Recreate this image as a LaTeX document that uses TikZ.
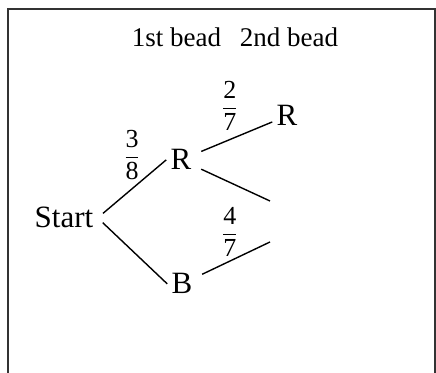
\documentclass[tikz,border=0pt]{standalone}
\usepackage{amsmath}
\usepackage{fontspec}
\setmainfont{Liberation Serif}
\usetikzlibrary{positioning,calc}

\newcommand{\bfrac}[2]{$\genfrac{}{}{0.7pt}{0}{\text{#1}}{\text{#2}}$}

\begin{document}
\begin{tikzpicture}[x=0.5pt,y=0.5pt,
    lbl/.style={font=\fontsize{15.5}{18}\selectfont, inner sep=2pt},
    frac/.style={font=\fontsize{13}{15}\selectfont, inner sep=0pt},
    branch/.style={line width=0.7pt, shorten <=3pt}]
    \useasboundingbox (0,0) rectangle (436,373);
    \draw[line width=1pt, black!80] (8,-4) -- (8,364) -- (435,364) -- (435,-4);
    \node[font=\fontsize{13.5}{16}\selectfont, anchor=base] (head) at (235,326) {1st bead\hspace{0.7em}2nd bead};
    \node[lbl, anchor=base] (start) at (64,145) {Start};
    \node[lbl, anchor=base] (r1) at (181,203) {R};
    \node[lbl, anchor=base] (b) at (182,79) {B};
    \node[lbl, anchor=base] (r2) at (287,247) {R};
    \coordinate (rr) at (270,172);
    \coordinate (bb) at (270,131);
    \node[frac] (p38) at (132,218) {\bfrac{3}{8}};
    \node[frac] (p27) at (230,267) {\bfrac{2}{7}};
    \node[frac] (p47) at (230,141) {\bfrac{4}{7}};
    \draw[branch, shorten <=3.5pt] (start.east) -- (r1.west);
    \draw[branch, shorten <=3.5pt] (start.east) -- (b.west);
    \draw[branch] (r1) -- (r2);
    \draw[branch] (r1) -- (rr);
    \draw[branch] (b) -- (bb);
\end{tikzpicture}
\end{document}
